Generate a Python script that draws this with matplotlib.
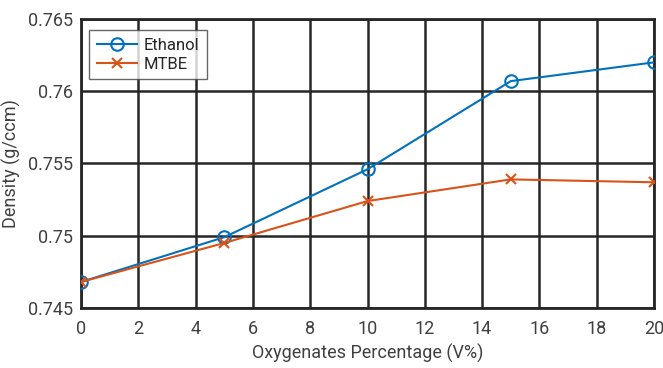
import matplotlib
matplotlib.use("Agg")
import matplotlib.pyplot as plt

plt.rcParams['font.family'] = ['Roboto', 'DejaVu Sans']

x = [0, 5, 10, 15, 20]
ethanol = [0.7468, 0.7499, 0.7546, 0.7607, 0.7620]
mtbe = [0.7468, 0.7495, 0.7524, 0.7539, 0.7537]
xticks = [0, 2, 4, 6, 8, 10, 12, 14, 16, 18, 20]
yticks = [0.745, 0.75, 0.755, 0.76, 0.765]
ytick_labels = ["0.745", "0.75", "0.755", "0.76", "0.765"]

fig = plt.figure(figsize=(6.63, 3.68), dpi=100)
ax = fig.add_axes([81/663, 1-308/368, (654-81)/663, (308-19)/368])

ax.plot(x, ethanol, color='#0072BD', marker='o', markersize=9, markerfacecolor='none',
        markeredgewidth=1.5, linewidth=1.5, label='Ethanol', zorder=3)
ax.plot(x, mtbe, color='#D95319', marker='x', markersize=7, markeredgewidth=1.5,
        linewidth=1.5, label='MTBE', zorder=3)

ax.set_xlim(0, 20)
ax.set_ylim(0.745, 0.765)
ax.set_xticks(xticks)
ax.set_xticklabels([str(t) for t in xticks])
ax.set_yticks(yticks)
ax.set_yticklabels(ytick_labels)
ax.grid(True, color='#262626', linewidth=1.8, alpha=1)
ax.set_axisbelow(True)
for s in ax.spines.values():
    s.set_color('#262626')
    s.set_linewidth(2)
ax.tick_params(axis='x', length=0, labelsize=13, colors='#404040', pad=9)
ax.tick_params(axis='y', length=0, labelsize=13, colors='#404040', pad=6)

ax.set_xlabel('Oxygenates Percentage (V%)', fontsize=13, color='#404040', labelpad=4)
ax.set_ylabel('Density (g/ccm)', fontsize=13, color='#404040', labelpad=5)

leg = ax.legend(loc='upper left', fontsize=12, frameon=True, fancybox=False,
                handlelength=2.4, handletextpad=0.4, borderpad=0.45, labelspacing=0.25,
                bbox_to_anchor=(0.0, 0.99))
leg.get_frame().set_edgecolor('#404040')
leg.get_frame().set_linewidth(1)
for t in leg.get_texts():
    t.set_color('#262626')

fig.savefig('out.png', dpi=100)
